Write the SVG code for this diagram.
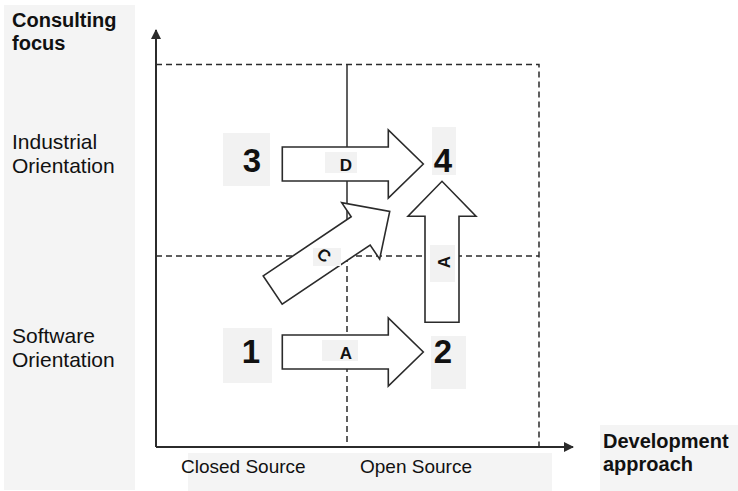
<svg xmlns="http://www.w3.org/2000/svg" width="738" height="491" viewBox="0 0 738 491">
  <style>
    .panel { fill: #f4f4f4; }
    .tag { fill: #f2f2f2; }
    .axis { stroke: #2b2b2b; stroke-width: 2; fill: none; }
    .grid { stroke: #2b2b2b; stroke-width: 1.5; fill: none; }
    .dash { stroke-dasharray: 6 4; }
    .arrow { fill: #ffffff; stroke: #2b2b2b; stroke-width: 1.6; stroke-linejoin: miter; }
    .hd { font-family: "Liberation Sans", Arial, sans-serif; font-weight: bold; font-size: 20px; fill: #111; }
    .lbl { font-family: "Liberation Sans", Arial, sans-serif; font-size: 21px; fill: #111; }
    .blbl { font-family: "Liberation Sans", Arial, sans-serif; font-size: 19px; fill: #111; }
    .num { font-family: "Liberation Sans", Arial, sans-serif; font-weight: bold; font-size: 33px; fill: #111; text-anchor: middle; }
    .let { font-family: "Liberation Sans", Arial, sans-serif; font-weight: bold; font-size: 17px; fill: #111; text-anchor: middle; }
  </style>
  <defs>
    <!-- block arrow, tail centre at origin, pointing +x -->
    <path id="blockArrow" d="M0,-17 H106 V-34 L141,0 L106,34 V17 H0 Z"/>
    <marker id="axisHead" viewBox="0 0 10 10" refX="9" refY="5" markerWidth="5" markerHeight="5" orient="auto" markerUnits="strokeWidth">
      <path d="M0,0 L10,5 L0,10 Z" fill="#2b2b2b"/>
    </marker>
  </defs>

  <rect width="738" height="491" fill="#ffffff"/>

  <!-- label panels -->
  <rect class="panel" x="4" y="5" width="131" height="485"/>
  <rect class="panel" x="188" y="453" width="364" height="38"/>
  <rect class="panel" x="600" y="425" width="138" height="66"/>

  <!-- axis titles and category labels -->
  <g id="axis-y-title">
    <text class="hd" x="12" y="27">Consulting</text>
    <text class="hd" x="12" y="50">focus</text>
  </g>
  <g id="row-industrial">
    <text class="lbl" x="12" y="149">Industrial</text>
    <text class="lbl" x="12" y="173">Orientation</text>
  </g>
  <g id="row-software">
    <text class="lbl" x="12" y="343">Software</text>
    <text class="lbl" x="12" y="367">Orientation</text>
  </g>
  <g id="col-closed"><text class="blbl" x="181" y="473">Closed Source</text></g>
  <g id="col-open"><text class="blbl" x="360" y="473">Open Source</text></g>
  <g id="axis-x-title">
    <text class="hd" x="603" y="448">Development</text>
    <text class="hd" x="603" y="471">approach</text>
  </g>

  <!-- grid -->
  <g id="grid">
    <path class="grid dash" d="M156,64.5 H539 V447"/>
    <path class="grid dash" d="M156,256 H539"/>
    <path class="grid" d="M347,64.5 V256"/>
    <path class="grid dash" d="M347,256 V447"/>
  </g>

  <!-- axes -->
  <g id="axes">
    <path class="axis" d="M156,447 V30" marker-end="url(#axisHead)"/>
    <path class="axis" d="M156,447 H573" marker-end="url(#axisHead)"/>
  </g>

  <!-- transition arrows -->
  <g id="connectors">
    <g id="arrow-D">
      <use href="#blockArrow" class="arrow" transform="translate(282.3,164)"/>
      <rect class="tag" x="325" y="152" width="32" height="21"/>
      <text class="let" x="346" y="171">D</text>
    </g>
    <g id="arrow-A-h">
      <use href="#blockArrow" class="arrow" transform="translate(282.3,352)"/>
      <rect class="tag" x="322" y="340" width="36" height="21"/>
      <text class="let" x="346" y="359">A</text>
    </g>
    <g id="arrow-A-v">
      <use href="#blockArrow" class="arrow" transform="translate(442,322.3) rotate(-90)"/>
      <rect class="tag" x="430" y="245" width="25" height="37"/>
      <text class="let" transform="translate(449.5,262) rotate(-90)" x="0" y="0">A</text>
    </g>
    <g id="arrow-C">
      <use href="#blockArrow" class="arrow" transform="translate(272.7,290) rotate(-33.9)"/>
      <rect class="tag" x="313" y="248" width="28" height="18"/>
      <text class="let" transform="translate(324,255) rotate(40)" x="0" y="6">C</text>
    </g>
  </g>

  <!-- states -->
  <g id="state-3">
    <rect class="tag" x="223" y="133" width="47" height="53"/>
    <text class="num" x="252" y="172">3</text>
  </g>
  <g id="state-4">
    <rect class="tag" x="432" y="127" width="24" height="48"/>
    <text class="num" x="443" y="172">4</text>
  </g>
  <g id="state-1">
    <rect class="tag" x="223" y="328" width="49" height="55"/>
    <text class="num" x="251" y="363">1</text>
  </g>
  <g id="state-2">
    <rect class="tag" x="431" y="336" width="35" height="53"/>
    <text class="num" x="443" y="363">2</text>
  </g>
</svg>
